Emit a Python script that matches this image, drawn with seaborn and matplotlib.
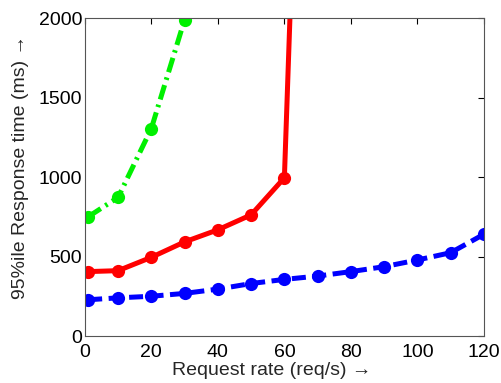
import pandas as pd
import matplotlib
matplotlib.use("Agg")
import matplotlib.pyplot as plt
import seaborn as sns

# request rate (req/s) and 95th percentile response time (ms) per setup
green_rate = [1, 10, 20, 30]
green_ms = [750, 872, 1305, 1990]

red_rate = [1, 10, 20, 30, 40, 50, 60, 62]
red_ms = [405, 411, 495, 592, 668, 762, 995, 2200]

blue_rate = [1, 10, 20, 30, 40, 50, 60, 70, 80, 90, 100, 110, 120]
blue_ms = [228, 240, 250, 268, 295, 330, 356, 377, 405, 436, 478, 524, 640]

x_ticks = [0, 20, 40, 60, 80, 100, 120]
y_ticks = [0, 500, 1000, 1500, 2000]

sns.set_style("white")
plt.rcParams["font.family"] = ["Liberation Sans", "DejaVu Sans"]

fig = plt.figure(figsize=(5.02, 3.83), dpi=100)
ax = fig.add_axes([0.169, 0.1227, 0.795, 0.8303])

common = dict(ax=ax, linewidth=3.6, marker="o", markersize=9.5, markeredgewidth=0)
sns.lineplot(x=green_rate, y=green_ms, color="#00f000",
             dashes=(3, 1.1, 0.5, 1.1), **common)
sns.lineplot(x=red_rate, y=red_ms, color="#ff0000", linestyle="-", **common)
sns.lineplot(x=blue_rate, y=blue_ms, color="#0000ff",
             dashes=(2.8, 1.3), **common)

ax.set_xlim(0, 120)
ax.set_ylim(0, 2000)
ax.set_xticks(x_ticks)
ax.set_yticks(y_ticks)
ax.tick_params(direction="in", top=True, right=True, length=4, width=0.8,
               labelsize=14, colors="black")
ax.tick_params(axis="x", pad=6)
ax.tick_params(axis="y", pad=2)
for s in ax.spines.values():
    s.set_color("#555555")
    s.set_linewidth(0.8)

ax.set_xlabel("Request rate (req/s) \u2192", fontsize=14)
ax.set_ylabel("95%ile Response time (ms) \u2192", fontsize=14)
ax.xaxis.set_label_coords(0.467, -0.082)
ax.yaxis.set_label_coords(-0.14, 0.53)

fig.savefig("out.png", dpi=100)
